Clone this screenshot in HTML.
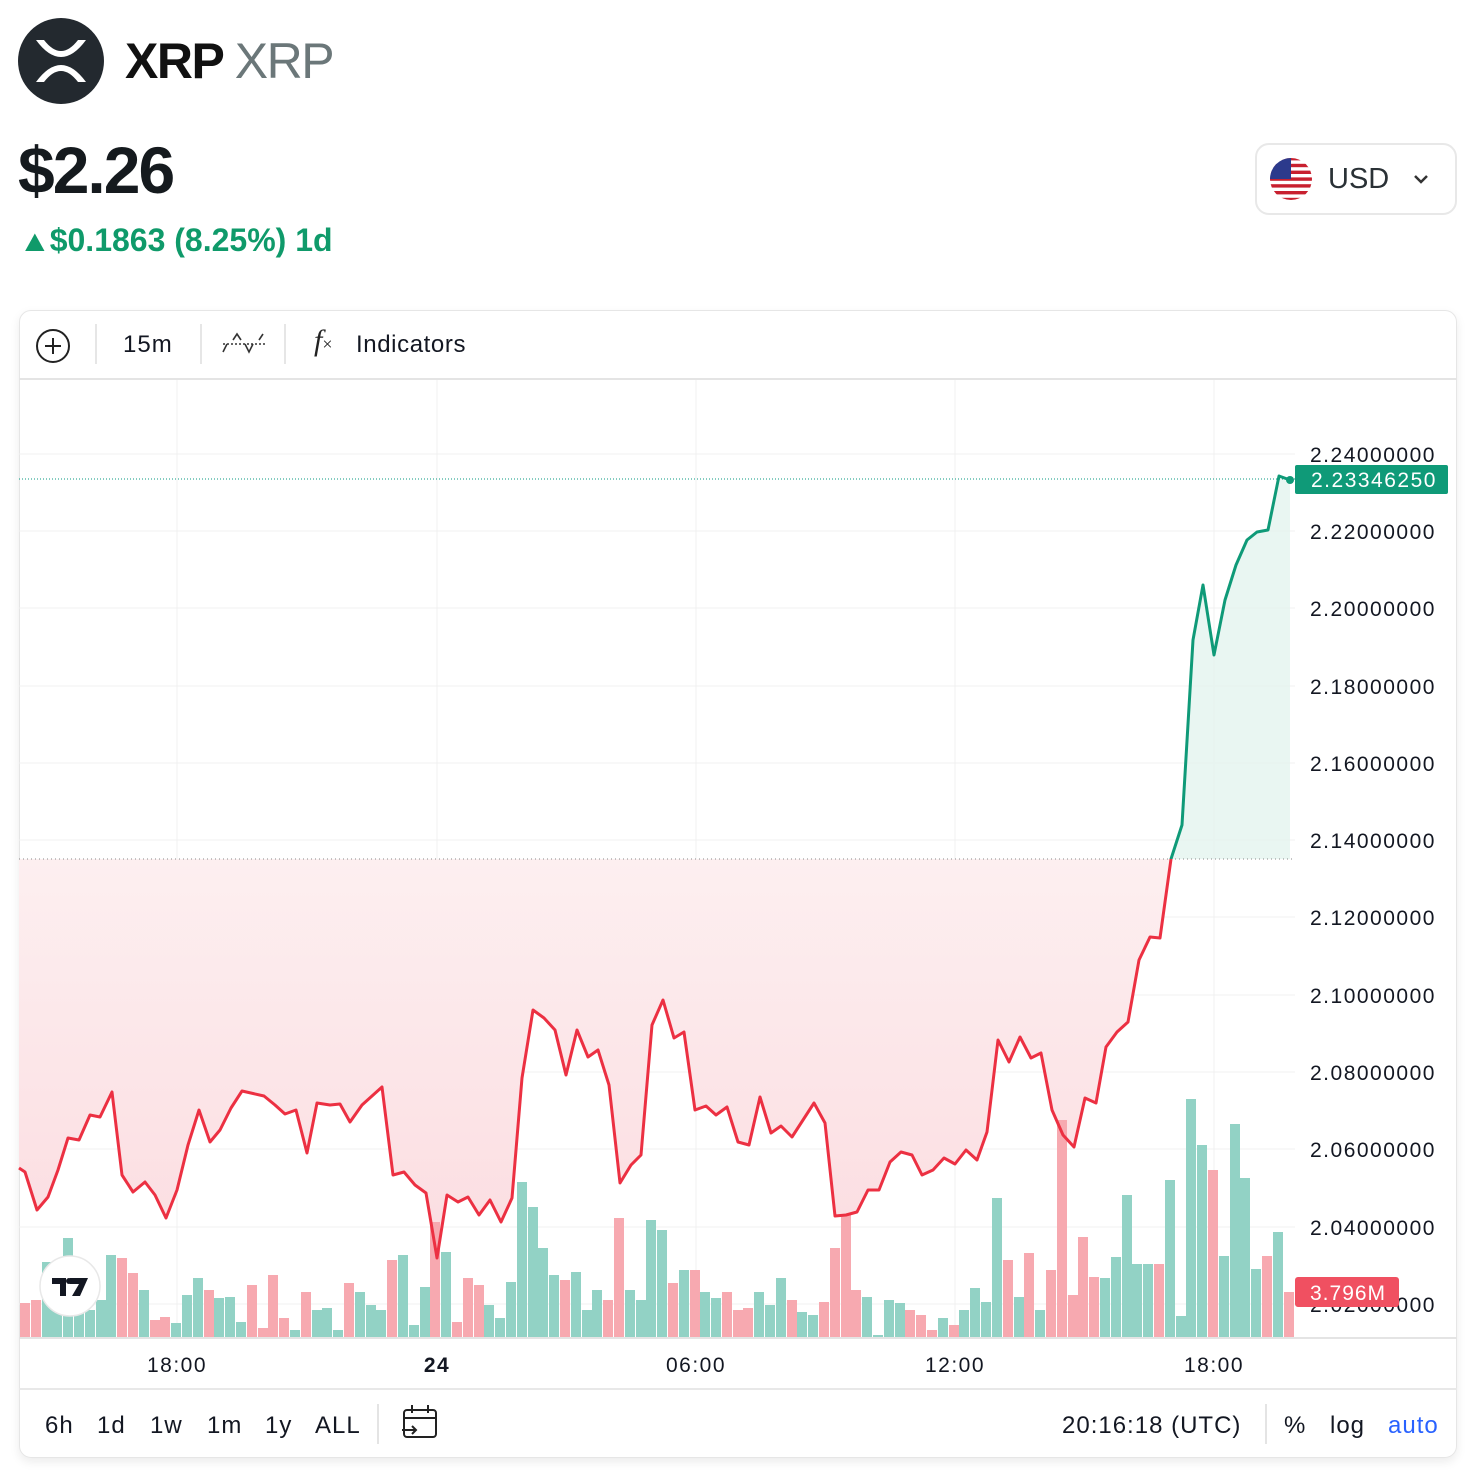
<!DOCTYPE html>
<html><head><meta charset="utf-8"><style>
html,body{margin:0;padding:0;background:#fff;width:1478px;height:1478px;overflow:hidden;font-family:"Liberation Sans",sans-serif;}
.abs{position:absolute;}
</style></head><body>
<div class="abs" style="left:18px;top:18px;width:86px;height:86px;border-radius:50%;background:#23292f;"></div>
<svg class="abs" style="left:18px;top:18px" width="86" height="86" viewBox="0 0 86 86"><path d="M18 22 L26 22 Q43 44 60 22 L68 22 Q43 56 18 22Z M18 64 L26 64 Q43 42 60 64 L68 64 Q43 30 18 64Z" fill="#fff"/></svg>
<div class="abs" style="left:125px;top:32px;font-size:50px;font-weight:bold;color:#111;letter-spacing:-1.5px">XRP <span style="font-weight:normal;color:#6b7779">XRP</span></div>
<div class="abs" style="left:18px;top:132px;font-size:66px;font-weight:bold;color:#151a1e;letter-spacing:-2px">$2.26</div>
<div class="abs" style="left:20px;top:222px;font-size:32px;font-weight:bold;color:#0f9a6a"><span style="font-size:30px;display:inline-block;transform:scaleX(1.1)">▲</span>$0.1863 (8.25%) 1d</div>
<div class="abs" style="left:1255px;top:143px;width:202px;height:72px;border:2px solid #e8e8e8;border-radius:14px;box-sizing:border-box;"></div>
<svg class="abs" style="left:1269px;top:157px" width="44" height="44" viewBox="0 0 44 44"><defs><clipPath id="fc"><circle cx="22" cy="22" r="21"/></clipPath></defs><g clip-path="url(#fc)"><rect width="44" height="44" fill="#fff"/><g fill="#c8202f"><rect y="0" width="44" height="3.4"/><rect y="6.8" width="44" height="3.4"/><rect y="13.6" width="44" height="3.4"/><rect y="20.4" width="44" height="3.4"/><rect y="27.2" width="44" height="3.4"/><rect y="34" width="44" height="3.4"/><rect y="40.8" width="44" height="3.4"/></g><rect width="22" height="22" fill="#2c3a8c"/></g></svg>
<div class="abs" style="left:1328px;top:163px;font-size:29px;color:#2a3136;font-weight:500">USD</div>
<svg class="abs" style="left:1413px;top:173px" width="16" height="12"><path d="M2 3 L8 9 L14 3" stroke="#333" stroke-width="2.5" fill="none"/></svg>

<div class="abs" style="left:19px;top:310px;width:1438px;height:1148px;border:1px solid #e6e6e6;border-radius:12px;box-sizing:border-box;box-shadow:0 4px 10px rgba(0,0,0,0.08);"></div>
<div class="abs" style="left:19px;top:378px;width:1438px;height:2px;background:#e4e4e4"></div>
<svg class="abs" style="left:35px;top:328px" width="36" height="36"><circle cx="18" cy="18" r="16" stroke="#222" stroke-width="2" fill="none"/><path d="M18 10V26M10 18H26" stroke="#222" stroke-width="2"/></svg>
<div class="abs" style="left:95px;top:324px;width:2px;height:40px;background:#e6e6e6"></div>
<div class="abs" style="left:123px;top:331px;font-size:24px;color:#131722;letter-spacing:1px">15m</div>
<div class="abs" style="left:200px;top:324px;width:2px;height:40px;background:#e6e6e6"></div>
<svg class="abs" style="left:221px;top:330px" width="46" height="28"><path d="M2 22 L6 14 M12 10 L16 4 L20 10 M24 14 L28 22 L32 14 M38 10 L42 4" stroke="#333" stroke-width="1.6" fill="none"/><path d="M2 14 H44" stroke="#333" stroke-width="1.4" stroke-dasharray="2 2"/></svg>
<div class="abs" style="left:284px;top:324px;width:2px;height:40px;background:#e6e6e6"></div>
<div class="abs" style="left:314px;top:324px;font-size:30px;font-style:italic;font-family:'Liberation Serif',serif;color:#222">f<span style="font-size:18px;font-style:normal">×</span></div>
<div class="abs" style="left:356px;top:331px;font-size:24px;color:#131722;letter-spacing:0.6px">Indicators</div>

<svg class="abs" style="left:0;top:0" width="1478" height="1478">
<defs>
<linearGradient id="rg" x1="0" y1="0" x2="0" y2="1"><stop offset="0" stop-color="#fdeff0"/><stop offset="1" stop-color="#fbdde1"/></linearGradient>
<clipPath id="top"><rect x="0" y="0" width="1478" height="859"/></clipPath>
<clipPath id="bot"><rect x="0" y="859" width="1478" height="600"/></clipPath>
</defs>
<g stroke="#f0f0f0" stroke-width="1">
<line x1="19" y1="454" x2="1295" y2="454"/><line x1="19" y1="531" x2="1295" y2="531"/><line x1="19" y1="608" x2="1295" y2="608"/><line x1="19" y1="686" x2="1295" y2="686"/><line x1="19" y1="763" x2="1295" y2="763"/><line x1="19" y1="840" x2="1295" y2="840"/><line x1="19" y1="917" x2="1295" y2="917"/><line x1="19" y1="995" x2="1295" y2="995"/><line x1="19" y1="1072" x2="1295" y2="1072"/><line x1="19" y1="1149" x2="1295" y2="1149"/><line x1="19" y1="1227" x2="1295" y2="1227"/><line x1="19" y1="1304" x2="1295" y2="1304"/>
<line x1="177" y1="380" x2="177" y2="1337"/><line x1="437" y1="380" x2="437" y2="1337"/><line x1="696" y1="380" x2="696" y2="1337"/><line x1="955" y1="380" x2="955" y2="1337"/><line x1="1214" y1="380" x2="1214" y2="1337"/>
</g>
<polygon fill="url(#rg)" clip-path="url(#bot)" points="19,859 19,1168 25,1172 37,1210 48,1197 58,1170 68,1138 79,1140 90,1115 100,1117 112,1092 122,1175 133,1192 145,1182 155,1195 166,1218 177,1190 188,1145 199,1110 210,1142 220,1130 231,1108 242,1091 264,1096 275,1105 285,1114 296,1110 307,1153 317,1103 330,1105 340,1104 350,1122 362,1105 372,1096 382,1087 393,1175 404,1172 415,1185 426,1193 437,1258 447,1195 458,1202 468,1197 479,1215 490,1200 501,1222 512,1198 522,1078 533,1010 544,1018 555,1030 566,1075 577,1030 588,1057 598,1050 609,1085 620,1183 631,1165 641,1155 652,1025 663,1000 674,1038 684,1032 695,1110 706,1106 716,1115 727,1107 738,1142 749,1145 760,1097 771,1133 781,1126 792,1137 803,1120 814,1103 825,1123 835,1216 846,1215 857,1212 868,1190 879,1190 890,1162 901,1152 912,1155 922,1175 933,1170 944,1158 955,1164 966,1150 977,1160 987,1132 998,1040 1009,1062 1020,1037 1031,1058 1041,1053 1052,1110 1063,1135 1074,1147 1085,1098 1096,1103 1106,1047 1117,1032 1128,1022 1139,960 1150,937 1160,938 1171,859"/>
<polygon fill="#e3f4ef" fill-opacity="0.8" points="1171,859 1182,825 1193,640 1203,585 1214,655 1225,600 1236,565 1247,540 1257,532 1268,530 1279,476 1290,480 1290,859"/>
<line x1="19" y1="859" x2="1295" y2="859" stroke="#888" stroke-width="1" stroke-dasharray="1 3"/>
<line x1="19" y1="479" x2="1295" y2="479" stroke="#089981" stroke-width="1" stroke-dasharray="1 2"/>
<g>
<rect x="20" y="1303" width="10" height="34" fill="#f7a9b0"/><rect x="31" y="1300" width="10" height="37" fill="#f7a9b0"/><rect x="42" y="1262" width="10" height="75" fill="#92d2c5"/><rect x="63" y="1238" width="10" height="99" fill="#92d2c5"/><rect x="52" y="1290" width="10" height="47" fill="#92d2c5"/><rect x="74" y="1297" width="10" height="40" fill="#92d2c5"/><rect x="85" y="1310" width="10" height="27" fill="#92d2c5"/><rect x="96" y="1300" width="10" height="37" fill="#92d2c5"/><rect x="106" y="1255" width="10" height="82" fill="#92d2c5"/><rect x="117" y="1258" width="10" height="79" fill="#f7a9b0"/><rect x="128" y="1273" width="10" height="64" fill="#f7a9b0"/><rect x="139" y="1290" width="10" height="47" fill="#92d2c5"/><rect x="150" y="1320" width="10" height="17" fill="#f7a9b0"/><rect x="160" y="1317" width="10" height="20" fill="#f7a9b0"/><rect x="171" y="1323" width="10" height="14" fill="#92d2c5"/><rect x="182" y="1295" width="10" height="42" fill="#92d2c5"/><rect x="193" y="1278" width="10" height="59" fill="#92d2c5"/><rect x="204" y="1290" width="10" height="47" fill="#f7a9b0"/><rect x="214" y="1298" width="10" height="39" fill="#92d2c5"/><rect x="225" y="1297" width="10" height="40" fill="#92d2c5"/><rect x="236" y="1322" width="10" height="15" fill="#92d2c5"/><rect x="247" y="1285" width="10" height="52" fill="#f7a9b0"/><rect x="258" y="1328" width="10" height="9" fill="#f7a9b0"/><rect x="268" y="1275" width="10" height="62" fill="#f7a9b0"/><rect x="279" y="1318" width="10" height="19" fill="#f7a9b0"/><rect x="290" y="1330" width="10" height="7" fill="#92d2c5"/><rect x="301" y="1292" width="10" height="45" fill="#f7a9b0"/><rect x="312" y="1310" width="10" height="27" fill="#92d2c5"/><rect x="322" y="1308" width="10" height="29" fill="#92d2c5"/><rect x="333" y="1330" width="10" height="7" fill="#92d2c5"/><rect x="344" y="1283" width="10" height="54" fill="#f7a9b0"/><rect x="355" y="1292" width="10" height="45" fill="#92d2c5"/><rect x="366" y="1305" width="10" height="32" fill="#92d2c5"/><rect x="376" y="1310" width="10" height="27" fill="#92d2c5"/><rect x="387" y="1260" width="10" height="77" fill="#f7a9b0"/><rect x="398" y="1255" width="10" height="82" fill="#92d2c5"/><rect x="409" y="1325" width="10" height="12" fill="#92d2c5"/><rect x="420" y="1287" width="10" height="50" fill="#92d2c5"/><rect x="430" y="1222" width="10" height="115" fill="#f7a9b0"/><rect x="441" y="1252" width="10" height="85" fill="#92d2c5"/><rect x="452" y="1322" width="10" height="15" fill="#f7a9b0"/><rect x="463" y="1278" width="10" height="59" fill="#f7a9b0"/><rect x="474" y="1285" width="10" height="52" fill="#f7a9b0"/><rect x="484" y="1305" width="10" height="32" fill="#92d2c5"/><rect x="495" y="1318" width="10" height="19" fill="#92d2c5"/><rect x="506" y="1282" width="10" height="55" fill="#92d2c5"/><rect x="517" y="1182" width="10" height="155" fill="#92d2c5"/><rect x="528" y="1207" width="10" height="130" fill="#92d2c5"/><rect x="538" y="1248" width="10" height="89" fill="#92d2c5"/><rect x="549" y="1275" width="10" height="62" fill="#92d2c5"/><rect x="560" y="1280" width="10" height="57" fill="#f7a9b0"/><rect x="571" y="1272" width="10" height="65" fill="#92d2c5"/><rect x="582" y="1310" width="10" height="27" fill="#92d2c5"/><rect x="592" y="1290" width="10" height="47" fill="#92d2c5"/><rect x="603" y="1300" width="10" height="37" fill="#f7a9b0"/><rect x="614" y="1218" width="10" height="119" fill="#f7a9b0"/><rect x="625" y="1290" width="10" height="47" fill="#92d2c5"/><rect x="636" y="1300" width="10" height="37" fill="#92d2c5"/><rect x="646" y="1220" width="10" height="117" fill="#92d2c5"/><rect x="657" y="1230" width="10" height="107" fill="#92d2c5"/><rect x="668" y="1283" width="10" height="54" fill="#f7a9b0"/><rect x="679" y="1270" width="10" height="67" fill="#92d2c5"/><rect x="690" y="1270" width="10" height="67" fill="#f7a9b0"/><rect x="700" y="1292" width="10" height="45" fill="#92d2c5"/><rect x="711" y="1298" width="10" height="39" fill="#92d2c5"/><rect x="722" y="1292" width="10" height="45" fill="#f7a9b0"/><rect x="733" y="1310" width="10" height="27" fill="#f7a9b0"/><rect x="743" y="1308" width="10" height="29" fill="#f7a9b0"/><rect x="754" y="1292" width="10" height="45" fill="#92d2c5"/><rect x="765" y="1305" width="10" height="32" fill="#92d2c5"/><rect x="776" y="1278" width="10" height="59" fill="#92d2c5"/><rect x="787" y="1300" width="10" height="37" fill="#f7a9b0"/><rect x="797" y="1312" width="10" height="25" fill="#92d2c5"/><rect x="808" y="1315" width="10" height="22" fill="#92d2c5"/><rect x="819" y="1302" width="10" height="35" fill="#f7a9b0"/><rect x="830" y="1248" width="10" height="89" fill="#f7a9b0"/><rect x="841" y="1215" width="10" height="122" fill="#f7a9b0"/><rect x="851" y="1290" width="10" height="47" fill="#f7a9b0"/><rect x="862" y="1297" width="10" height="40" fill="#92d2c5"/><rect x="873" y="1335" width="10" height="2" fill="#92d2c5"/><rect x="884" y="1300" width="10" height="37" fill="#92d2c5"/><rect x="895" y="1303" width="10" height="34" fill="#92d2c5"/><rect x="905" y="1310" width="10" height="27" fill="#f7a9b0"/><rect x="916" y="1315" width="10" height="22" fill="#f7a9b0"/><rect x="927" y="1330" width="10" height="7" fill="#f7a9b0"/><rect x="938" y="1318" width="10" height="19" fill="#92d2c5"/><rect x="949" y="1325" width="10" height="12" fill="#f7a9b0"/><rect x="959" y="1310" width="10" height="27" fill="#92d2c5"/><rect x="970" y="1288" width="10" height="49" fill="#92d2c5"/><rect x="981" y="1302" width="10" height="35" fill="#92d2c5"/><rect x="992" y="1198" width="10" height="139" fill="#92d2c5"/><rect x="1003" y="1260" width="10" height="77" fill="#f7a9b0"/><rect x="1014" y="1297" width="10" height="40" fill="#92d2c5"/><rect x="1024" y="1253" width="10" height="84" fill="#f7a9b0"/><rect x="1035" y="1310" width="10" height="27" fill="#92d2c5"/><rect x="1046" y="1270" width="10" height="67" fill="#f7a9b0"/><rect x="1057" y="1120" width="10" height="217" fill="#f7a9b0"/><rect x="1068" y="1295" width="10" height="42" fill="#f7a9b0"/><rect x="1078" y="1237" width="10" height="100" fill="#f7a9b0"/><rect x="1089" y="1277" width="10" height="60" fill="#f7a9b0"/><rect x="1100" y="1278" width="10" height="59" fill="#92d2c5"/><rect x="1111" y="1257" width="10" height="80" fill="#92d2c5"/><rect x="1122" y="1195" width="10" height="142" fill="#92d2c5"/><rect x="1132" y="1264" width="10" height="73" fill="#92d2c5"/><rect x="1143" y="1264" width="10" height="73" fill="#92d2c5"/><rect x="1154" y="1264" width="10" height="73" fill="#f7a9b0"/><rect x="1165" y="1180" width="10" height="157" fill="#92d2c5"/><rect x="1176" y="1316" width="10" height="21" fill="#92d2c5"/><rect x="1186" y="1099" width="10" height="238" fill="#92d2c5"/><rect x="1197" y="1145" width="10" height="192" fill="#92d2c5"/><rect x="1208" y="1170" width="10" height="167" fill="#f7a9b0"/><rect x="1219" y="1256" width="10" height="81" fill="#92d2c5"/><rect x="1230" y="1124" width="10" height="213" fill="#92d2c5"/><rect x="1240" y="1178" width="10" height="159" fill="#92d2c5"/><rect x="1251" y="1269" width="10" height="68" fill="#92d2c5"/><rect x="1262" y="1256" width="10" height="81" fill="#f7a9b0"/><rect x="1273" y="1232" width="10" height="105" fill="#92d2c5"/><rect x="1284" y="1292" width="10" height="45" fill="#f7a9b0"/>
</g>
<g fill="none" stroke-width="3" stroke-linejoin="round">
<polyline clip-path="url(#bot)" stroke="#ec3042" points="19,1168 25,1172 37,1210 48,1197 58,1170 68,1138 79,1140 90,1115 100,1117 112,1092 122,1175 133,1192 145,1182 155,1195 166,1218 177,1190 188,1145 199,1110 210,1142 220,1130 231,1108 242,1091 264,1096 275,1105 285,1114 296,1110 307,1153 317,1103 330,1105 340,1104 350,1122 362,1105 372,1096 382,1087 393,1175 404,1172 415,1185 426,1193 437,1258 447,1195 458,1202 468,1197 479,1215 490,1200 501,1222 512,1198 522,1078 533,1010 544,1018 555,1030 566,1075 577,1030 588,1057 598,1050 609,1085 620,1183 631,1165 641,1155 652,1025 663,1000 674,1038 684,1032 695,1110 706,1106 716,1115 727,1107 738,1142 749,1145 760,1097 771,1133 781,1126 792,1137 803,1120 814,1103 825,1123 835,1216 846,1215 857,1212 868,1190 879,1190 890,1162 901,1152 912,1155 922,1175 933,1170 944,1158 955,1164 966,1150 977,1160 987,1132 998,1040 1009,1062 1020,1037 1031,1058 1041,1053 1052,1110 1063,1135 1074,1147 1085,1098 1096,1103 1106,1047 1117,1032 1128,1022 1139,960 1150,937 1160,938 1171,859 1182,825"/>
<polyline clip-path="url(#top)" stroke="#0f9a78" points="1160,938 1171,859 1182,825 1193,640 1203,585 1214,655 1225,600 1236,565 1247,540 1257,532 1268,530 1279,476 1290,480"/>
</g>
<circle cx="1290" cy="480" r="4" fill="#0f9a78"/>
<line x1="19" y1="1338" x2="1457" y2="1338" stroke="#e4e4e4" stroke-width="2"/>
<line x1="19" y1="1389" x2="1457" y2="1389" stroke="#e8e8e8" stroke-width="2"/>
<g font-family="Liberation Sans, sans-serif" font-size="21" fill="#131722" letter-spacing="1.5">
<text x="1310" y="462">2.24000000</text><text x="1310" y="539">2.22000000</text><text x="1310" y="616">2.20000000</text><text x="1310" y="694">2.18000000</text><text x="1310" y="771">2.16000000</text><text x="1310" y="848">2.14000000</text><text x="1310" y="925">2.12000000</text><text x="1310" y="1003">2.10000000</text><text x="1310" y="1080">2.08000000</text><text x="1310" y="1157">2.06000000</text><text x="1310" y="1235">2.04000000</text><text x="1310" y="1312">2.02000000</text>
<text x="177" y="1372" text-anchor="middle">18:00</text><text x="437" y="1372" text-anchor="middle" font-weight="bold">24</text><text x="696" y="1372" text-anchor="middle">06:00</text><text x="955" y="1372" text-anchor="middle">12:00</text><text x="1214" y="1372" text-anchor="middle">18:00</text>
</g>
<rect x="1295" y="465" width="153" height="29" rx="2" fill="#0f9a78"/>
<text x="1311" y="487" font-family="Liberation Sans, sans-serif" font-size="21" fill="#fff" letter-spacing="1.5">2.23346250</text>
<rect x="1295" y="1277" width="104" height="30" rx="3" fill="#f05061"/>
<text x="1310" y="1300" font-family="Liberation Sans, sans-serif" font-size="21" fill="#fff" letter-spacing="1">3.796M</text>
<circle cx="70" cy="1286" r="30" fill="#fff" stroke="#e8e8e8" stroke-width="1.5"/>
<path d="M52 1278 H66 V1296 H60 V1284 H52Z M70 1278 H88 L80 1296 H72 L79 1284 H70Z" fill="#131722"/>
<circle cx="69" cy="1281" r="3" fill="#131722"/>
<g font-family="Liberation Sans, sans-serif" font-size="24" fill="#131722" letter-spacing="1">
<text x="45" y="1433">6h</text><text x="97" y="1433">1d</text><text x="150" y="1433">1w</text><text x="207" y="1433">1m</text><text x="265" y="1433">1y</text><text x="315" y="1433">ALL</text>
<text x="1062" y="1433">20:16:18 (UTC)</text><text x="1284" y="1433">%</text><text x="1330" y="1433">log</text><text x="1388" y="1433" fill="#2962ff">auto</text>
</g>
<line x1="378" y1="1404" x2="378" y2="1444" stroke="#e4e4e4" stroke-width="2"/>
<line x1="1266" y1="1404" x2="1266" y2="1444" stroke="#e4e4e4" stroke-width="2"/>
<g stroke="#222" stroke-width="2" fill="none"><rect x="404" y="1410" width="32" height="27" rx="3"/><path d="M404 1418 H436 M412 1405 V1413 M428 1405 V1413 M402 1430 H416 M412 1426 L416 1430 L412 1434"/></g>
</svg>
</body></html>
